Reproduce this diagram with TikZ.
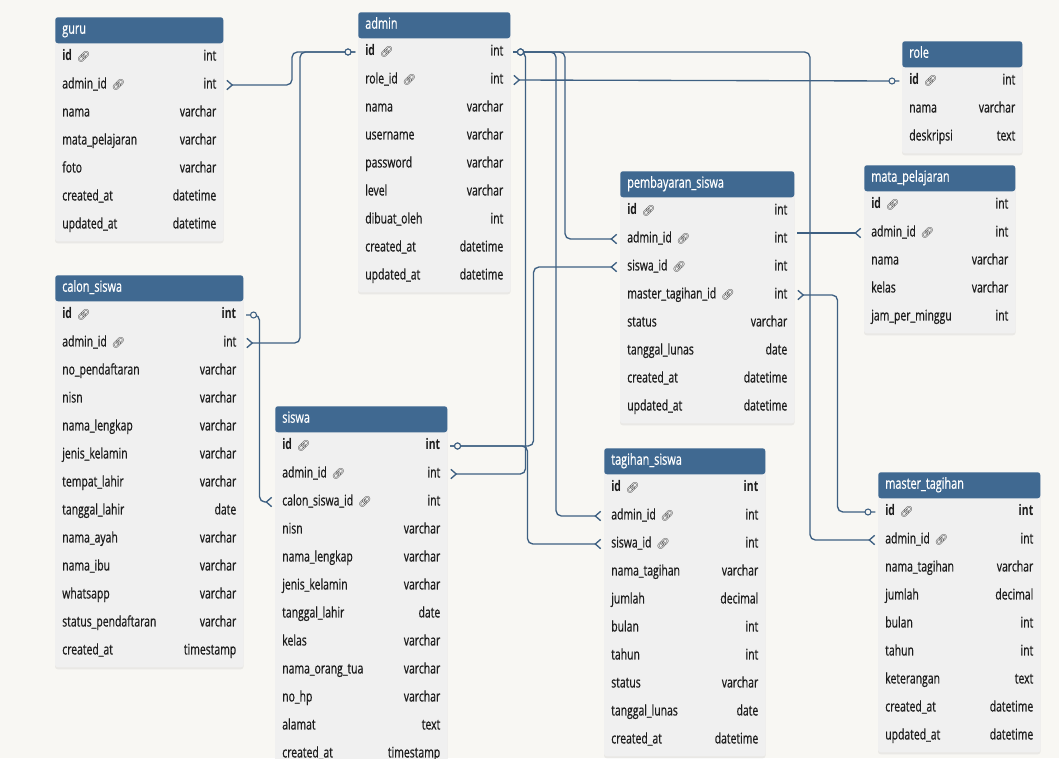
\documentclass[tikz,border=0pt]{standalone}
\usepackage{fontspec}
\setmainfont{Open Sans}[FakeStretch=0.71, UprightFeatures={FakeBold=0.6}]
\newfontfamily\emojifont{Noto Emoji}
\usetikzlibrary{arrows.meta, calc, backgrounds, shadows}
\definecolor{bgcol}{RGB}{248,247,243}
\definecolor{hdblue}{RGB}{64,105,145}
\definecolor{rowgray}{RGB}{240,240,240}
\definecolor{linecol}{RGB}{62,96,130}
\definecolor{txtcol}{RGB}{28,28,28}

\newcommand{\lk}{{\color{txtcol!90}\emojifont\fontsize{8}{8}\selectfont\char"1F517}}
\newcommand{\pk}{\textbf{id}~\lk}

% one table: name, x, y (top), width (px), title, rows
\newcommand{\ertable}[6]{%
  \pgfmathsetlengthmacro{\tw}{#4*0.75pt-10.5pt}%
  \node[tblhead, text width=\tw] (#1) at (#2,#3) {\strut#5};
  \foreach \fld/\typ [count=\i] in {#6}{
    \node[tblrow, text width=\tw] (#1-\i) at ({#2},{#3+12+28*\i}) {\strut\fld\hfill\typ};
    \xdef\lastrow{\i}
  }
  \begin{scope}[on background layer]
    \fill[rowgray, rounded corners=2pt, drop shadow={opacity=0.12, shadow xshift=0pt, shadow yshift=-1.5pt}]
      (#1.north west) rectangle ([yshift=-1.5pt]#1-\lastrow.south east);
  \end{scope}
}

\begin{document}
\begin{tikzpicture}[x=0.75pt, y=-0.75pt,
    tblhead/.style={anchor=north west, fill=hdblue, text=white, minimum height=19.5pt,
                    inner xsep=5.25pt, inner ysep=0pt, rounded corners=2pt,
                    font=\fontsize{11.5}{13}\selectfont},
    tblrow/.style={anchor=west, minimum height=21pt, inner xsep=5.25pt, inner ysep=0pt,
                   text=txtcol, font=\fontsize{11}{13}\selectfont},
    crow/.tip={Straight Barb[reversed, length=4pt, width=7pt]},
    rel/.style={draw=linecol, line width=1pt, rounded corners=4pt, shorten <=2pt, shorten >=2pt},
    dotL/.style={circle, draw=linecol, fill=bgcol, line width=0.8pt, inner sep=0pt,
                 minimum size=4.5pt, xshift=-7.5pt},
    dotR/.style={dotL, xshift=15pt}]
  \useasboundingbox (0,0) rectangle (1059,758);
  \begin{scope}[on background layer]
    \fill[bgcol] (0,0) rectangle (1059,758);
  \end{scope}

  % Tables
  \ertable{guru}{55}{17}{168}{guru}{\pk/int, admin\_id \lk/int, nama/varchar,
    mata\_pelajaran/varchar, foto/varchar, created\_at/datetime, updated\_at/datetime}
  \ertable{adm}{358}{12}{152}{admin}{\pk/int, role\_id \lk/int, nama/varchar,
    username/varchar, password/varchar, level/varchar, dibuat\_oleh/int,
    created\_at/datetime, updated\_at/datetime}
  \ertable{role}{902}{41}{120}{role}{\pk/int, nama/varchar, deskripsi/text}
  \ertable{mapel}{864}{165}{151}{mata\_pelajaran}{\pk/int, admin\_id \lk/int,
    nama/varchar, kelas/varchar, jam\_per\_minggu/int}
  \ertable{bayar}{620}{171}{174}{pembayaran\_siswa}{\pk/int, admin\_id \lk/int,
    siswa\_id \lk/int, master\_tagihan\_id \lk/int, status/varchar,
    tanggal\_lunas/date, created\_at/datetime, updated\_at/datetime}
  \ertable{calon}{55}{275}{188}{calon\_siswa}{\pk/\textbf{int}, admin\_id \lk/int,
    no\_pendaftaran/varchar, nisn/varchar, nama\_lengkap/varchar,
    jenis\_kelamin/varchar, tempat\_lahir/varchar, tanggal\_lahir/date,
    nama\_ayah/varchar, nama\_ibu/varchar, whatsapp/varchar,
    status\_pendaftaran/varchar, created\_at/timestamp}
  \ertable{siswa}{275}{406}{172}{siswa}{\pk/\textbf{int}, admin\_id \lk/int,
    calon\_siswa\_id \lk/int, nisn/varchar, nama\_lengkap/varchar,
    jenis\_kelamin/varchar, tanggal\_lahir/date, kelas/varchar,
    nama\_orang\_tua/varchar, no\_hp/varchar, alamat/text, created\_at/timestamp}
  \ertable{tagih}{604}{448}{161}{tagihan\_siswa}{\pk/\textbf{int}, admin\_id \lk/int,
    siswa\_id \lk/int, nama\_tagihan/varchar, jumlah/decimal, bulan/int,
    tahun/int, status/varchar, tanggal\_lunas/date, created\_at/datetime}
  \ertable{mtag}{878}{472}{162}{master\_tagihan}{\pk/\textbf{int}, admin\_id \lk/int,
    nama\_tagihan/varchar, jumlah/decimal, bulan/int, tahun/int,
    keterangan/text, created\_at/datetime, updated\_at/datetime}

  % Relations from admin.id
  \draw[rel, -crow] (adm-1.west) node[dotL] {} -- ++(-66,0) |- (guru-2.east);
  \draw[rel, -crow] (adm-1.west) node[dotL] {} -- ++(-58,0) |- (calon-2.east);
  \draw[rel, -crow] (adm-1.east) node[dotR] {} -| ($(mtag-2.west)+(-68,0)$) -- (mtag-2.west);
  \draw[rel, -crow] (adm-1.east) node[dotR] {} -| ($(bayar-2.west)+(-55,0)$) -- (bayar-2.west);
  \draw[rel, -crow] (adm-1.east) node[dotR] {} -| ($(tagih-2.west)+(-48,0)$) -- (tagih-2.west);
  \draw[rel, -crow] (adm-1.east) node[dotR] {} -| ($(siswa-2.east)+(78,0)$) -- (siswa-2.east);
  \draw[rel, -crow] (bayar.east |- mapel-2.west) -- (mapel-2.west);

  % Other relations
  \draw[rel, crow-] (adm-2.east) -- (role-1.west) node[dotL] {};
  \draw[rel, crow-] (bayar-4.east) -- ++(43,0) |- (mtag-1.west) node[dotL] {};
  \draw[rel, -crow] (calon-1.east) node[dotR] {} -- ++(16,0) |- (siswa-3.west);
  \draw[rel, -crow] (siswa-1.east) node[dotR] {} -- ++(86,0) |- (bayar-3.west);
  \draw[rel, -crow] (siswa-1.east) node[dotR] {} -- ++(80,0) |- (tagih-3.west);
\end{tikzpicture}
\end{document}
